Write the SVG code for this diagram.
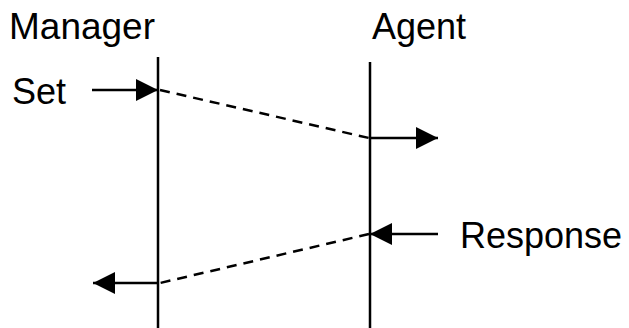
<svg xmlns="http://www.w3.org/2000/svg" width="629" height="328" viewBox="0 0 629 328">
<style>
.t{font-family:"Liberation Sans",Arial,sans-serif;font-size:36px;fill:#000}
.l{stroke:#000;stroke-width:2.5;fill:none}
.d{stroke:#000;stroke-width:2.5;fill:none;stroke-dasharray:10,7}
</style>
<defs>
<marker id="ah" markerUnits="userSpaceOnUse" markerWidth="26" markerHeight="26" refX="22" refY="11" orient="auto">
<path d="M0,0 L22,11 L0,22 Z" fill="#000"/>
</marker>
</defs>
<rect width="629" height="328" fill="#fff"/>
<g id="manager">
<text class="t" x="9" y="39" textLength="146" lengthAdjust="spacingAndGlyphs">Manager</text>
<line class="l" x1="158" y1="57" x2="158" y2="328"/>
</g>
<g id="agent">
<text class="t" x="372" y="39">Agent</text>
<line class="l" x1="370" y1="62" x2="370" y2="328"/>
</g>
<g id="set">
<text class="t" x="12" y="104">Set</text>
</g>
<g id="response">
<text class="t" x="460" y="248">Response</text>
</g>
<g id="connectors">
<line class="l" x1="92" y1="90" x2="158" y2="90" marker-end="url(#ah)"/>
<line class="d" x1="160" y1="90" x2="369" y2="138"/>
<line class="l" x1="370" y1="138" x2="438" y2="138" marker-end="url(#ah)"/>
<line class="l" x1="438" y1="234" x2="370" y2="234" marker-end="url(#ah)"/>
<line class="d" x1="369" y1="234" x2="160" y2="283"/>
<line class="l" x1="158" y1="283" x2="93" y2="283" marker-end="url(#ah)"/>
</g>
</svg>
